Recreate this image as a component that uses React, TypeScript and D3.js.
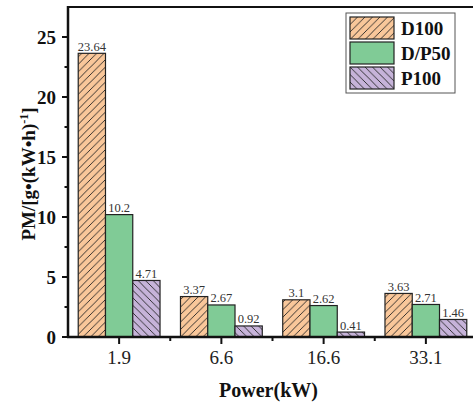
import React, { useEffect, useRef } from 'react'
import * as d3 from 'd3'

const powers = ['1.9', '6.6', '16.6', '33.1']
const seriesNames = ['D100', 'D/P50', 'P100']
const d100 = [23.64, 3.37, 3.1, 3.63]
const dp50 = [10.2, 2.67, 2.62, 2.71]
const p100 = [4.71, 0.92, 0.41, 1.46]
const yTicks = [0, 5, 10, 15, 20, 25]

const fills = ['#f9c79a', '#80cb96', '#c6b3d9']
const hatch = ['url(#hatchFwd)', null, 'url(#hatchBack)']
const FONT = 'Liberation Serif'

const App = () => {
  const svgRef = useRef<SVGSVGElement>(null)

  useEffect(() => {
    const svg = d3.select(svgRef.current)
    svg.selectAll('*').remove()
    const width = 473
    const height = 403
    const margin = { top: 7, right: -4, bottom: 66, left: 68 }
    const values = [d100, dp50, p100]

    svg.attr('width', width).attr('height', height).attr('font-family', FONT)

    const defs = svg.append('defs')
    const addHatch = (id: string, d: string) => {
      const p = defs
        .append('pattern')
        .attr('id', id)
        .attr('patternUnits', 'userSpaceOnUse')
        .attr('width', 7.5)
        .attr('height', 7.5)
      p.append('path').attr('d', d).attr('stroke', '#222').attr('stroke-width', 0.9)
    }
    addHatch('hatchFwd', 'M-1,1 l2,-2 M0,7.5 l7.5,-7.5 M6.5,8.5 l2,-2')
    addHatch('hatchBack', 'M-1,6.5 l2,2 M0,0 l7.5,7.5 M6.5,-1 l2,2')

    const x0 = d3
      .scaleBand()
      .domain(powers)
      .range([margin.left, width - margin.right])
    const gap = x0.bandwidth() * 0.1
    const x1 = d3
      .scaleBand()
      .domain(seriesNames)
      .range([gap, x0.bandwidth() - gap])

    const y = d3
      .scaleLinear()
      .domain([0, 27.5])
      .range([height - margin.bottom, margin.top])

    // bars
    seriesNames.forEach((name, si) => {
      const g = svg.append('g')
      powers.forEach((p, i) => {
        const bx = (x0(p) as number) + (x1(name) as number)
        const by = y(values[si][i])
        const bh = y(0) - by
        g.append('rect')
          .attr('x', bx)
          .attr('y', by)
          .attr('width', x1.bandwidth())
          .attr('height', bh)
          .attr('fill', fills[si])
        if (hatch[si]) {
          g.append('rect')
            .attr('x', bx)
            .attr('y', by)
            .attr('width', x1.bandwidth())
            .attr('height', bh)
            .attr('fill', hatch[si] as string)
        }
        g.append('rect')
          .attr('x', bx)
          .attr('y', by)
          .attr('width', x1.bandwidth())
          .attr('height', bh)
          .attr('fill', 'none')
          .attr('stroke', '#222')
          .attr('stroke-width', 1.2)
        g.append('text')
          .attr('x', bx + x1.bandwidth() / 2)
          .attr('y', by - 2.5)
          .attr('text-anchor', 'middle')
          .attr('font-size', 12.5)
          .attr('fill', '#333')
          .text(String(values[si][i]))
      })
    })

    // frame
    svg
      .append('line')
      .attr('x1', margin.left)
      .attr('x2', width)
      .attr('y1', margin.top)
      .attr('y2', margin.top)
      .attr('stroke', '#111')
      .attr('stroke-width', 2.2)

    // y axis
    const yAxis = svg.append('g').attr('transform', `translate(${margin.left},0)`)
    yAxis
      .append('line')
      .attr('y1', margin.top - 1)
      .attr('y2', y(0) + 1)
      .attr('stroke', '#111')
      .attr('stroke-width', 2.5)
    d3.range(0, 27.5, 2.5).forEach((v) => {
      const major = v % 5 === 0
      yAxis
        .append('line')
        .attr('x1', major ? -6 : -3.5)
        .attr('x2', 0)
        .attr('y1', y(v))
        .attr('y2', y(v))
        .attr('stroke', '#111')
        .attr('stroke-width', 2)
    })
    yTicks.forEach((v) => {
      yAxis
        .append('text')
        .attr('x', -12)
        .attr('y', y(v))
        .attr('dy', '0.35em')
        .attr('text-anchor', 'end')
        .attr('font-size', 19)
        .attr('font-weight', 'bold')
        .attr('fill', '#111')
        .text(v)
    })

    // x axis
    const xAxis = svg.append('g').attr('transform', `translate(0,${y(0)})`)
    xAxis
      .append('line')
      .attr('x1', margin.left - 1)
      .attr('x2', width)
      .attr('stroke', '#111')
      .attr('stroke-width', 2.5)
    powers.forEach((p, i) => {
      const cx = (x0(p) as number) + x0.bandwidth() / 2
      xAxis
        .append('line')
        .attr('x1', cx)
        .attr('x2', cx)
        .attr('y1', 0)
        .attr('y2', 7)
        .attr('stroke', '#111')
        .attr('stroke-width', 2)
      if (i > 0) {
        xAxis
          .append('line')
          .attr('x1', x0(p) as number)
          .attr('x2', x0(p) as number)
          .attr('y1', 0)
          .attr('y2', 4)
          .attr('stroke', '#111')
          .attr('stroke-width', 2)
      }
      xAxis
        .append('text')
        .attr('x', cx)
        .attr('y', 27)
        .attr('text-anchor', 'middle')
        .attr('font-size', 19)
        .attr('fill', '#222')
        .text(p)
    })

    // axis titles
    svg
      .append('text')
      .attr('x', (margin.left + 473) / 2 - 2)
      .attr('y', 397)
      .attr('text-anchor', 'middle')
      .attr('font-size', 20)
      .attr('font-weight', 'bold')
      .attr('fill', '#111')
      .text('Power(kW)')

    const yt = svg
      .append('text')
      .attr('transform', 'translate(35,174) rotate(-90)')
      .attr('text-anchor', 'middle')
      .attr('font-size', 19)
      .attr('font-weight', 'bold')
      .attr('fill', '#111')
    yt.append('tspan').text('PM/[g•(kW•h)')
    yt.append('tspan').attr('dy', -7).attr('font-size', 12).text('-1')
    yt.append('tspan').attr('dy', 7).text(']')

    // legend
    const lg = svg.append('g').attr('transform', 'translate(346,13)')
    lg.append('rect')
      .attr('width', 109)
      .attr('height', 80)
      .attr('fill', '#fff')
      .attr('stroke', '#555')
      .attr('stroke-width', 1)
    seriesNames.forEach((name, si) => {
      const row = lg.append('g').attr('transform', `translate(4,${4 + si * 25})`)
      row.append('rect').attr('width', 44).attr('height', 22).attr('fill', fills[si])
      if (hatch[si]) {
        row.append('rect').attr('width', 44).attr('height', 22).attr('fill', hatch[si] as string)
      }
      row
        .append('rect')
        .attr('width', 44)
        .attr('height', 22)
        .attr('fill', 'none')
        .attr('stroke', '#222')
        .attr('stroke-width', 1.2)
      row
        .append('text')
        .attr('x', 51)
        .attr('y', 11)
        .attr('dy', '0.35em')
        .attr('font-size', 19)
        .attr('font-weight', 'bold')
        .attr('fill', '#111')
        .text(name)
    })
  }, [])

  return <svg ref={svgRef} style={{ position: 'absolute', left: 0, top: 0 }}></svg>
}

export default App
